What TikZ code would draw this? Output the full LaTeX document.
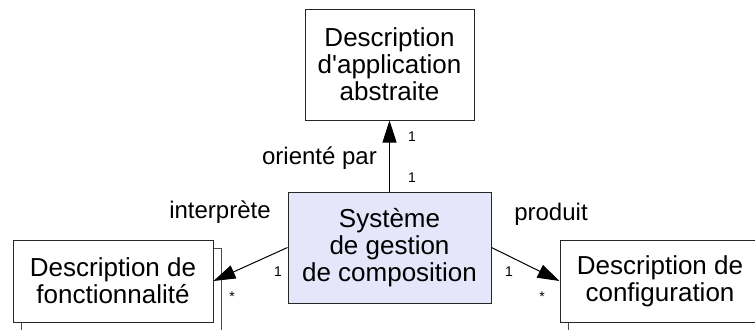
\documentclass[tikz,border=0pt]{standalone}
\usepackage{fontspec}
\setmainfont{Liberation Sans}
\usetikzlibrary{arrows.meta}
\definecolor{lavande}{RGB}{230,230,250}
\begin{document}
\begin{tikzpicture}[x=0.75pt,y=-0.75pt,
    classbox/.style={draw=black!85,fill=white,line width=0.75pt,inner sep=0pt,align=center,
        font=\fontsize{19.5}{20.3}\selectfont},
    backbox/.style={draw=black!70,fill=white,line width=0.75pt,inner sep=0pt},
    rolename/.style={font=\fontsize{18}{20}\selectfont,inner sep=0pt},
    mult/.style={font=\fontsize{10.5}{12}\selectfont,inner sep=0pt},
    assoc/.style={line width=0.75pt,-{Triangle[length=16.5pt,width=10.5pt]}}]
            \useasboundingbox (0,0) rectangle (755,329);
            \clip (0,0) rectangle (755,329);
            % boites
            \node[classbox,minimum width=126.75pt,minimum height=83.25pt] (abstr) at (389.5,64.5) {Description\\d\textquotesingle application\\abstraite};
            \node[classbox,fill=lavande,minimum width=152.25pt,minimum height=83.25pt] (sgc) at (389.5,247.5) {Système\\de gestion\\de composition};
            \node[backbox,minimum width=150pt,minimum height=61.5pt] (fonctback) at (121,289) {};
            \node[classbox,minimum width=150pt,minimum height=61.5pt] (fonct) at (113,281) {Description de\\fonctionnalité};
            \node[backbox,minimum width=150pt,minimum height=61.5pt] (configback) at (668,289) {};
            \node[classbox,minimum width=150pt,minimum height=61.5pt] (config) at (660,281) {Description de\\configuration};
            % associations
            \draw[assoc] (sgc.north) -- (abstr.south);
            \draw[assoc] (sgc.west) -- (fonct.east);
            \draw[assoc] (sgc.east) -- (config.west);
            % roles et multiplicites
            \node[rolename] (oriente) at (319.5,158) {orienté par};
            \node[rolename] (interp) at (220,212) {interprète};
            \node[rolename] (produit) at (551,214) {produit};
            \node[mult] (mhaut) at (412,137) {1};
            \node[mult] (mbas) at (412,178) {1};
            \node[mult] (mgauche) at (278,272) {1};
            \node[mult] (etoileg) at (232,297) {*};
            \node[mult] (mdroite) at (509,272) {1};
            \node[mult] (etoiled) at (542,297) {*};
        \end{tikzpicture}
\end{document}
